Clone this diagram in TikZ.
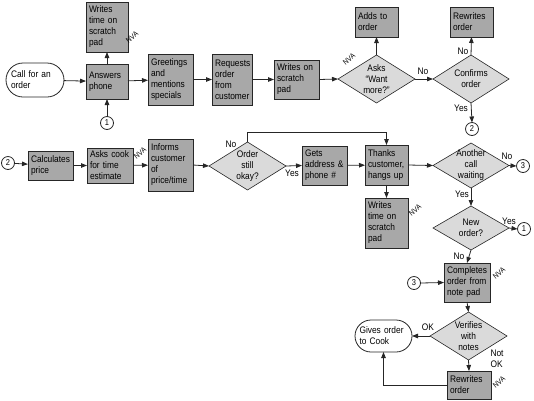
\documentclass[tikz,border=0pt]{standalone}
\usepackage{fontspec}
\setmainfont{Liberation Sans}[FakeStretch=0.88]
\usetikzlibrary{arrows.meta,shapes.geometric,shapes.misc}
\definecolor{boxgray}{HTML}{A8A8A8}
\definecolor{diagray}{HTML}{DADADA}
\newcommand\txtfont{\fontsize{9.5}{11}\selectfont}
\newcommand\mybox[6]{\node[box, minimum width=#4pt, minimum height=#5pt, text width=#4pt-6pt] (#1) at (#2,#3) {#6};}
\newcommand\mydia[6]{\node[dia, minimum width=#4pt, minimum height=#5pt] (#1) at (#2,#3) {};
  \node[dtext] (#1-t) at (#1) {#6};}
\tikzset{
  box/.style={draw=black!85, fill=boxgray, line width=0.8pt, inner sep=3pt, outer sep=0pt, align=left, font=\txtfont},
  dia/.style={diamond, draw=black!85, fill=diagray, line width=0.6pt, inner sep=0pt, outer sep=0pt},
  dtext/.style={align=center, font=\txtfont, inner sep=0pt},
  term/.style={rounded rectangle, draw=black!85, fill=white, line width=0.8pt, inner sep=3pt, outer sep=0pt, align=left, font=\txtfont},
  conn/.style={circle, draw=black!85, fill=white, line width=0.8pt, minimum size=13pt, inner sep=0pt, outer sep=0pt, font=\fontsize{8.5}{10}\selectfont},
  arr/.style={draw=black!85, line width=0.8pt, -{Triangle[length=6pt,width=4.5pt]}},
  lbl/.style={font=\txtfont, inner sep=0pt, align=left},
  nva/.style={font=\fontsize{7.5}{8}\selectfont, inner sep=0pt, rotate=40},
}
\begin{document}
\begin{tikzpicture}[x=1pt,y=-1pt]
\useasboundingbox (0,0) rectangle (534,400);
% top row
\node[term, minimum width=64pt, minimum height=34pt, text width=48pt] (call) at (35,80) {Call for an\\order};
\mybox{ans}{107}{81.5}{42}{35}{Answers\\phone}
\mybox{wt1}{107}{27}{42}{50}{Writes\\time on\\scratch\\pad}
\node[conn] (c1a) at (107,123) {1};
\mybox{greet}{170.5}{79.5}{45}{51}{Greetings\\and\\mentions\\specials}
\mybox{req}{232}{79.5}{40}{51}{Requests\\order\\from\\customer}
\mybox{wsp}{296.5}{79.5}{45}{39}{Writes on\\scratch\\pad}
\mydia{asks}{376.5}{79}{77}{48}{Asks\\``Want\\more?''}
\mybox{adds}{376.5}{22}{43}{30}{Adds to\\order}
\mydia{conf}{471}{79}{76}{48}{Confirms\\order}
\mybox{rew1}{471.5}{22}{43}{30}{Rewrites\\order}
\node[conn] (c2a) at (472,129) {2};
% middle row
\node[conn] (c2b) at (8,163) {2};
\mybox{calc}{50.5}{165.5}{45}{29}{Calculates\\price}
\mybox{cook}{110}{165.5}{46}{35}{Asks cook\\for time\\estimate}
\mybox{inform}{170.5}{165}{45}{52}{Informs\\customer\\of\\price/time}
\mydia{still}{247.5}{166}{77}{48}{Order\\still\\okay?}
\mybox{gets}{324.5}{165.5}{45}{39}{Gets\\address \&\\phone \#}
\mybox{thanks}{386.5}{165}{43}{40}{Thanks\\customer,\\hangs up}
\mybox{wt2}{386.5}{223}{43}{50}{Writes\\time on\\scratch\\pad}
\mydia{another}{471}{165.5}{76}{45}{Another\\call\\waiting}
\node[conn] (c3a) at (523,166) {3};
\mydia{neworder}{471}{228}{76}{44}{New\\order?}
\node[conn] (c1b) at (524,229) {1};
% bottom
\node[conn] (c3b) at (414,283) {3};
\mybox{comp}{467}{282.5}{46}{39}{Completes\\order from\\note pad}
\mydia{ver}{468.5}{336}{77}{48}{Verifies\\with\\notes}
\node[term, minimum width=63pt, minimum height=32pt, text width=48pt] (gives) at (383.5,336) {Gives order\\to Cook};
\mybox{rew2}{469}{385}{44}{28}{Rewrites\\order}
% NVA marks
\node[nva] (nva1) at (132,37) {NVA};
\node[nva] (nva2) at (349,59) {NVA};
\node[nva] (nva3) at (140,153) {NVA};
\node[nva] (nva4) at (415,210) {NVA};
\node[nva] (nva5) at (499,273) {NVA};
\node[nva] (nva6) at (499,382) {NVA};
% connector labels
\node[lbl] (l1) at (423,71) {No};
\node[lbl] (l2) at (463,51) {No};
\node[lbl] (l3) at (461,108) {Yes};
\node[lbl] (l4) at (231,144) {No};
\node[lbl] (l5) at (292,173) {Yes};
\node[lbl] (l6) at (507,156) {No};
\node[lbl] (l7) at (462,194) {Yes};
\node[lbl] (l8) at (509,221) {Yes};
\node[lbl] (l9) at (459,256) {No};
\node[lbl] (l10) at (428,327) {OK};
\node[lbl] (l11) at (497,358.5) {Not\\OK};
% connectors
\draw[arr] (call) -- (ans);
\draw[arr] (ans) -- (wt1);
\draw[arr] (c1a) -- (ans);
\draw[arr] (ans) -- (greet);
\draw[arr] (greet) -- (req);
\draw[arr] (req) -- (wsp);
\draw[arr] (wsp.east) -- (asks.west);
\draw[arr] (asks.north) -- (adds.south);
\draw[arr] (asks.east) -- (conf.west);
\draw[arr] (conf.north) -- (rew1.south);
\draw[arr] (conf.south) -- (c2a.north);
\draw[arr] (c2b) -- (calc);
\draw[arr] (calc) -- (cook);
\draw[arr] (cook) -- (inform);
\draw[arr] (inform.east) -- (still.west);
\draw[arr] (still.east) -- (gets.west);
\draw[arr] (still.north) -- ++(0,-10) -| (thanks.north);
\draw[arr] (gets) -- (thanks);
\draw[arr] (thanks.east) -- (another.west);
\draw[arr] (thanks.south) -- (wt2.north);
\draw[arr] (another.east) -- (c3a.west);
\draw[arr] (another.south) -- (neworder.north);
\draw[arr] (neworder.east) -- (c1b.west);
\draw[arr] (neworder.south) -- (comp.north);
\draw[arr] (c3b.east) -- (comp.west);
\draw[arr] (comp.south) -- (ver.north);
\draw[arr] (ver.west) -- (gives.east);
\draw[arr] (ver.south) -- (rew2.north);
\draw[arr] (rew2.west) -| (gives.south);
\end{tikzpicture}
\end{document}
